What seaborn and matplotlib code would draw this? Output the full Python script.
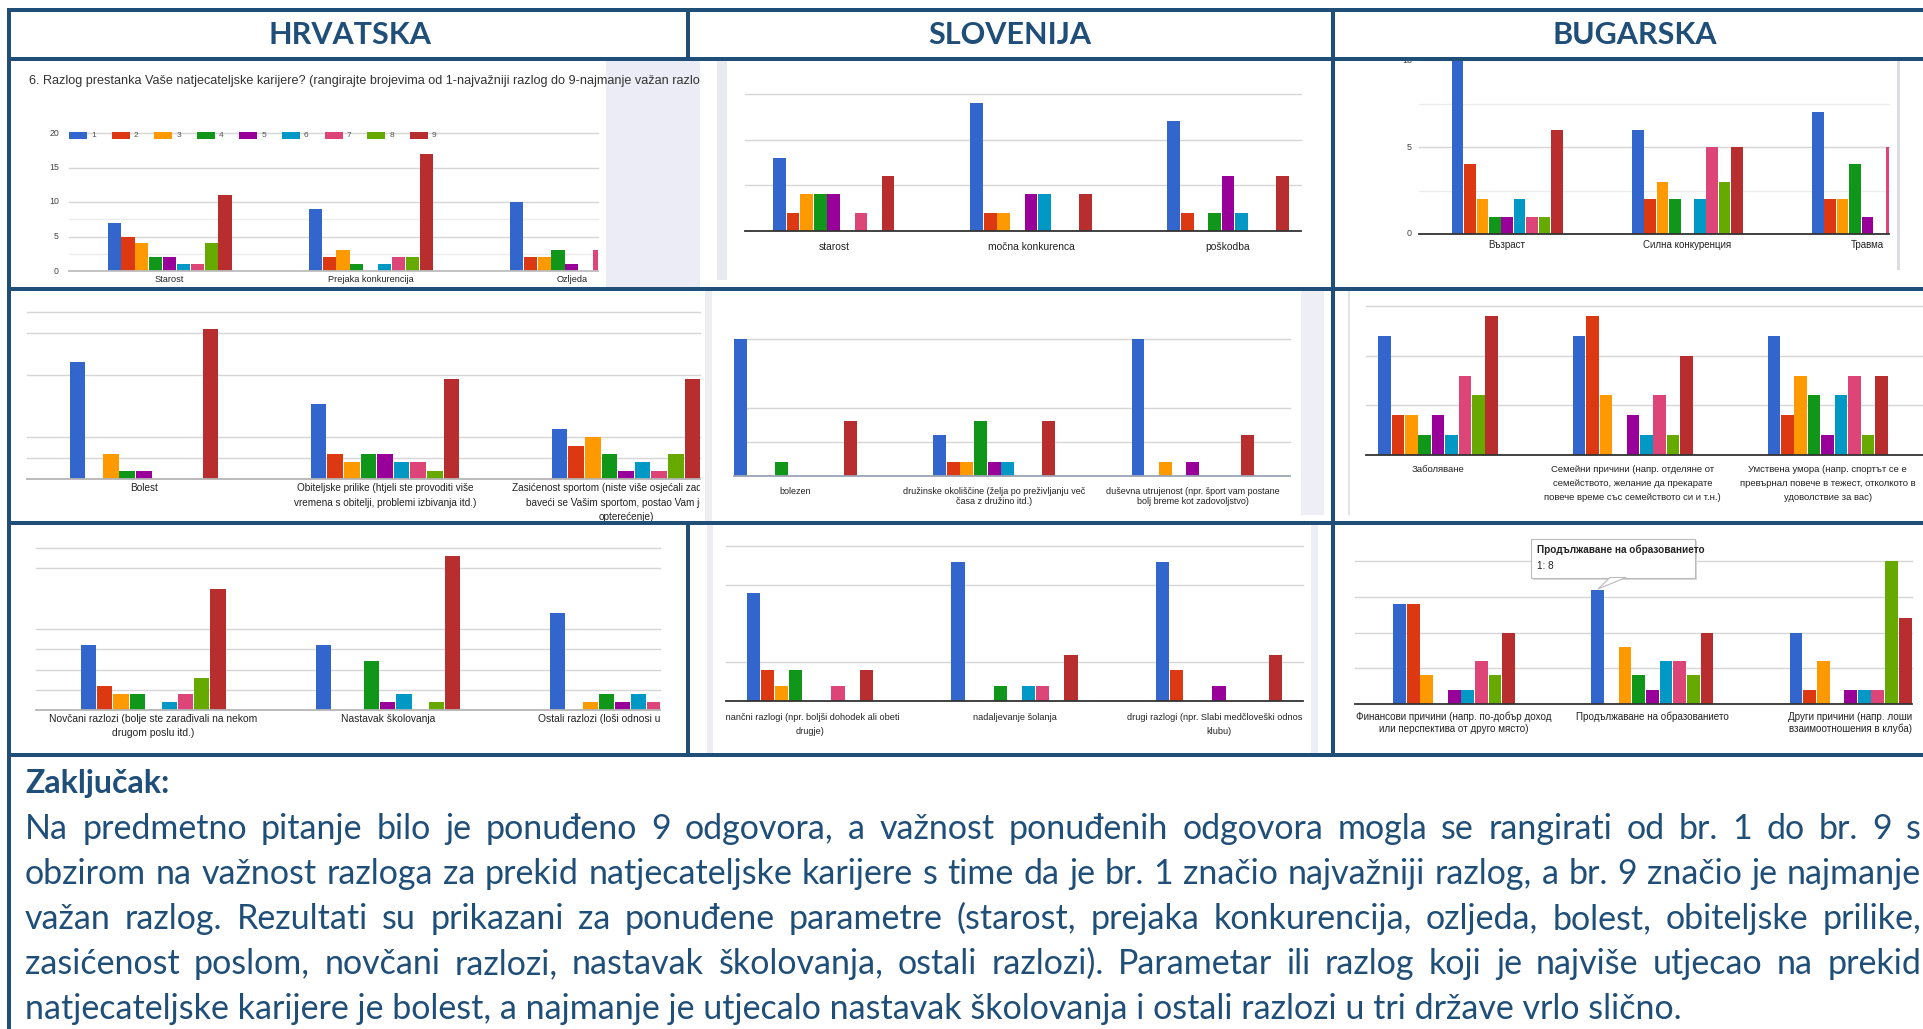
import pandas as pd
import matplotlib
matplotlib.use('Agg')
import matplotlib.pyplot as plt
import seaborn as sns
from matplotlib.patches import Rectangle, Polygon
from matplotlib.transforms import Bbox, TransformedBbox, blended_transform_factory

W, H = 1923, 1029
NAVY = '#1F4E79'
RANKS = ['1', '2', '3', '4', '5', '6', '7', '8', '9']
RANK_COLORS = ['#3366CC', '#DC3912', '#FF9900', '#109618', '#990099',
               '#0099C6', '#DD4477', '#66AA00', '#B82E2E']

# --- answers per rank (1..9) ---
hr1_cats = ['Starost', 'Prejaka konkurencija', 'Ozljeda']
hr1_vals = [[7, 5, 4, 2, 2, 1, 1, 4, 11],
            [9, 2, 3, 1, 0, 1, 2, 2, 17],
            [10, 2, 2, 3, 1, 0, 3, 2, 12]]

si1_cats = ['starost', 'močna konkurenca', 'poškodba']
si1_vals = [[4, 1, 2, 2, 2, 0, 1, 0, 3],
            [7, 1, 1, 0, 2, 2, 0, 0, 2],
            [6, 1, 0, 1, 3, 1, 0, 0, 3]]

bg1_cats = ['Възраст', 'Силна конкуренция', 'Травма']
bg1_vals = [[11, 4, 2, 1, 1, 2, 1, 1, 6],
            [6, 2, 3, 2, 0, 2, 5, 3, 5],
            [7, 2, 2, 4, 1, 0, 5, 1, 5]]

hr2_cats = ['Bolest',
            'Obiteljske prilike (htjeli ste provoditi više\nvremena s obitelji, problemi izbivanja itd.)',
            'Zasićenost sportom (niste više osjećali zadovoljstvo\nbaveći se Vašim sportom, postao Vam je više\nopterećenje)']
hr2_vals = [[14, 0, 3, 1, 1, 0, 0, 0, 18],
            [9, 3, 2, 3, 3, 2, 2, 1, 12],
            [6, 4, 5, 3, 1, 2, 1, 3, 12]]

si2_cats = ['bolezen',
            'družinske okoliščine (želja po preživljanju več\nčasa z družino itd.)',
            'duševna utrujenost (npr. šport vam postane\nbolj breme kot zadovoljstvo)']
si2_vals = [[10, 0, 0, 1, 0, 0, 0, 0, 4],
            [3, 1, 1, 4, 1, 1, 0, 0, 4],
            [10, 0, 1, 0, 1, 0, 0, 0, 3]]

bg2_cats = ['Заболяване',
            'Семейни причини (напр. отделяне от\nсемейството, желание да прекарате\nповече време със семейството си и т.н.)',
            'Умствена умора (напр. спортът се е\nпревърнал повече в тежест, отколкото в\nудоволствие за вас)']
bg2_vals = [[6, 2, 2, 1, 2, 1, 4, 3, 7],
            [6, 7, 3, 0, 2, 1, 3, 1, 5],
            [6, 2, 4, 3, 1, 3, 4, 1, 4]]

hr3_cats = ['Novčani razlozi (bolje ste zarađivali na nekom\ndrugom poslu itd.)',
            'Nastavak školovanja',
            'Ostali razlozi (loši odnosi u klubu itd.)']
hr3_vals = [[8, 3, 2, 2, 0, 1, 2, 4, 15],
            [8, 0, 0, 6, 1, 2, 0, 1, 19],
            [12, 0, 1, 2, 1, 2, 1, 1, 4]]

si3_cats = ['finančni razlogi (npr. boljši dohodek ali obeti\ndrugje)',
            'nadaljevanje šolanja',
            'drugi razlogi (npr. Slabi medčloveški odnosi v\nklubu)']
si3_vals = [[7, 2, 1, 2, 0, 0, 1, 0, 2],
            [9, 0, 0, 1, 0, 1, 1, 0, 3],
            [9, 2, 0, 0, 1, 0, 0, 0, 3]]

bg3_cats = ['Финансови причини (напр. по-добър доход\nили перспектива от друго място)',
            'Продължаване на образованието',
            'Други причини (напр. лоши\nвзаимоотношения в клуба)']
bg3_vals = [[7, 7, 2, 0, 1, 1, 3, 2, 5],
            [8, 0, 4, 2, 1, 3, 3, 2, 5],
            [5, 1, 3, 0, 1, 1, 1, 10, 6]]

headers = ['HRVATSKA', 'SLOVENIJA', 'BUGARSKA']
hr_title = ('6. Razlog prestanka Vaše natjecateljske karijere? (rangirajte brojevima '
            'od 1-najvažniji razlog do 9-najmanje važan razlog)')
tooltip_lines = ['Продължаване на образованието', '1: 8']
conclusion_head = 'Zaključak:'
conclusion_lines = [
    'Na predmetno pitanje bilo je ponuđeno 9 odgovora, a važnost ponuđenih odgovora mogla se rangirati od br. 1 do br. 9 s',
    'obzirom na važnost razloga za prekid natjecateljske karijere s time da je br. 1 značio najvažniji razlog, a br. 9 značio je najmanje',
    'važan razlog. Rezultati su prikazani za ponuđene parametre (starost, prejaka konkurencija, ozljeda, bolest, obiteljske prilike,',
    'zasićenost poslom, novčani razlozi, nastavak školovanja, ostali razlozi). Parametar ili razlog koji je najviše utjecao na prekid',
    'natjecateljske karijere je bolest, a najmanje je utjecalo nastavak školovanja i ostali razlozi u tri države vrlo slično.',
]

plt.rcParams['font.family'] = ['Liberation Sans', 'DejaVu Sans']
fig = plt.figure(figsize=(W / 100, H / 100), dpi=100)
fig.patch.set_facecolor('white')
renderer = fig.canvas.get_renderer()
DOC_FONT = ['Lato', 'DejaVu Sans']


def fy(y):
    return 1 - y / H


def px_rect(x0, y0, x1, y1):
    return [x0 / W, 1 - y1 / H, (x1 - x0) / W, (y1 - y0) / H]


def clip_box(x0, y0, x1, y1):
    return TransformedBbox(Bbox.from_extents(x0 / W, fy(y1), x1 / W, fy(y0)), fig.transFigure)


def fill_px(x0, y0, x1, y1, color, z):
    fig.add_artist(Rectangle((x0 / W, fy(y1)), (x1 - x0) / W, (y1 - y0) / H,
                             transform=fig.transFigure, facecolor=color,
                             edgecolor='none', zorder=z))


def text_width(s, **kw):
    t = fig.text(0, 0, s, **kw)
    w = t.get_window_extent(renderer).width
    t.remove()
    return w


def draw_panel(cats, vals, box, xlim, ymax, grid, cell, label_y, label_dy, label_pt,
               base='#333333', minor=()):
    x0, y_top, x1, y_base = box
    ax = fig.add_axes(px_rect(x0, y_top, x1, y_base))
    rows = [(c, r, v) for c, vs in zip(cats, vals) for r, v in zip(RANKS, vs)]
    df = pd.DataFrame(rows, columns=['cat', 'rank', 'value'])
    sns.barplot(data=df, x='cat', y='value', hue='rank', order=cats, hue_order=RANKS,
                palette=RANK_COLORS, width=0.62, gap=0.06, saturation=1,
                linewidth=0, errorbar=None, legend=False, ax=ax)
    ax.set_xlim(*xlim)
    ax.set_ylim(0, ymax)
    ax.set_facecolor('none')
    for s in ax.spines.values():
        s.set_visible(False)
    ax.set_xticks([])
    ax.set_yticks([])
    ax.set_xlabel('')
    ax.set_ylabel('')
    for g in minor:
        ax.axhline(g, color='#ececec', lw=1, zorder=0, clip_on=False)
    for g in grid:
        ax.axhline(g, color='#d6d6d6', lw=1, zorder=0, clip_on=False)
    ax.axhline(0, color=base, lw=1.3, zorder=3, clip_on=False)
    tr = blended_transform_factory(ax.transData, fig.transFigure)
    cb = clip_box(*cell)
    for i, lab in enumerate(cats):
        for k, line in enumerate(lab.split('\n')):
            t = fig.text(i, fy(label_y + k * label_dy), line, transform=tr,
                         ha='center', va='center', fontsize=label_pt, color='#222222')
            t.set_clip_on(True)
            t.set_clip_box(cb)
    return ax


def y_ticks(ax, values, x_right, pt):
    tr = blended_transform_factory(fig.transFigure, ax.transData)
    for v in values:
        fig.text(x_right / W, v, str(v), transform=tr, ha='right', va='center',
                 fontsize=pt, color='#444444')


# --- background pieces of the pasted screenshots ---
fill_px(606, 59, 700, 289, '#ECECF6', -5)     # lavender side of HR chart
fill_px(717, 59, 727, 280, '#E9E9F0', -5)
fill_px(1897, 59, 1900, 270, '#DCDCE4', -5)
fill_px(705, 291, 712, 521, '#EDEDF3', -5)
fill_px(1301, 291, 1324, 515, '#EEEEF6', -5)
fill_px(1348, 291, 1350, 515, '#E2E2E8', -5)
fill_px(707, 525, 713, 753, '#EDEDF3', -5)
fill_px(1311, 525, 1318, 753, '#EEEEF6', -5)

# --- row 1 ---
ax = draw_panel(hr1_cats, hr1_vals, (69, 133, 598, 271), (-0.5, 2.13), 20,
                [5, 10, 15, 20], (11, 61, 700, 287), 279, 12, 6.6,
                base='#bdbdbd', minor=[2.5, 7.5])
y_ticks(ax, [0, 5, 10, 15, 20], 59, 6.3)
for i, r in enumerate(RANKS):
    lx = 69 + i * 42.6
    fill_px(lx, 132, lx + 18, 139, RANK_COLORS[i], 4)
    fig.text((lx + 22) / W, fy(135.5), r, ha='left', va='center', fontsize=6, color='#555555')
t_size = 8.5 * 671 / text_width(hr_title.split(')')[0], fontsize=8.5)
t = fig.text(29 / W, fy(81), hr_title, ha='left', va='center', fontsize=t_size, color='#333333')
t.set_clip_on(True)
t.set_clip_box(clip_box(11, 61, 700, 287))

draw_panel(si1_cats, si1_vals, (745, 94, 1301, 231), (-0.45, 2.37), 7.5,
           [2.5, 5, 7.5], (690, 61, 1331, 287), 247, 12, 7.4)

ax = draw_panel(bg1_cats, bg1_vals, (1419, 59, 1889, 234), (-0.49, 2.12), 10.06,
                [5, 10], (1335, 61, 1923, 287), 245, 12, 7.0, minor=[2.5, 7.5])
y_ticks(ax, [0, 5, 10], 1412, 6.5)

# --- row 2 ---
draw_panel(hr2_cats, hr2_vals, (27, 312, 700, 479), (-0.485, 2.307), 20,
           [2.5, 5, 12.5, 17.5, 20], (11, 291, 700, 521), 488, 14.5, 7.2, base='#b5b5b5')

draw_panel(si2_cats, si2_vals, (734, 339, 1290, 476), (-0.31, 2.49), 10,
           [2.5, 5, 10], (700, 291, 1331, 521), 491, 11, 6.5, base='#9da3b4')

draw_panel(bg2_cats, bg2_vals, (1366, 306, 1923, 455), (-0.37, 2.49), 7.5,
           [2.5, 5, 7.5], (1335, 291, 1923, 521), 469, 14.5, 6.8)

# --- row 3 ---
draw_panel(hr3_cats, hr3_vals, (36, 548, 660, 710), (-0.5, 2.16), 20,
           [2.5, 5, 7.5, 10, 17.5, 20], (11, 525, 660, 753), 719, 14, 7.4, base='#b5b5b5')

draw_panel(si3_cats, si3_vals, (726, 546, 1303, 701), (-0.41, 2.41), 10,
           [2.5, 7.5, 10], (726, 525, 1303, 753), 718, 14, 6.6)

draw_panel(bg3_cats, bg3_vals, (1355, 561, 1912, 704), (-0.5, 2.31), 10,
           [2.5, 5, 7.5, 10], (1335, 525, 1923, 753), 717, 12, 7.1)

# tooltip on the BG chart
fill_px(1533, 541, 1697, 580, '#d9d9d9', 5)
fill_px(1531, 539, 1695, 578, '#ffffff', 6)
fig.add_artist(Rectangle((1531 / W, fy(578)), 164 / W, 39 / H, transform=fig.transFigure,
                         facecolor='none', edgecolor='#bbbbbb', lw=0.8, zorder=7))
fig.add_artist(Polygon([(1598 / W, fy(589)), (1610 / W, fy(577.5)), (1626 / W, fy(577.5))],
                       closed=True, transform=fig.transFigure, facecolor='white',
                       edgecolor='#bbbbbb', lw=0.8, zorder=7))
fig.text(1537 / W, fy(550), tooltip_lines[0], ha='left', va='center', fontsize=7.2,
         color='#222222', fontweight='bold', zorder=8)
fig.text(1537 / W, fy(566), tooltip_lines[1], ha='left', va='center', fontsize=7.2,
         color='#222222', zorder=8)

# --- table frame ---
for x0, y0, x1, y1 in [(7, 8, 1923, 12), (7, 57, 1923, 61), (7, 287, 1923, 291),
                       (7, 521, 1923, 525), (7, 753, 1923, 757), (7, 8, 11, 1029),
                       (686, 8, 690, 61), (686, 521, 690, 757), (1331, 8, 1335, 757)]:
    fill_px(x0, y0, x1, y1, NAVY, 20)

for name, cx in zip(headers, [350, 1010, 1635]):
    fig.text(cx / W, fy(35), name, ha='center', va='center', fontsize=22,
             fontweight='bold', color=NAVY, family=DOC_FONT)

# --- conclusion, justified like the document ---
fig.text(25 / W, fy(793), conclusion_head, ha='left', va='baseline', fontsize=23,
         fontweight='bold', color=NAVY, family=DOC_FONT)
body_pt = 23 * 1880 / text_width(conclusion_lines[1], fontsize=23, family=DOC_FONT)
body_kw = dict(fontsize=body_pt, color=NAVY, family=DOC_FONT)
x_left, x_right = 25, 1921
for k, line in enumerate(conclusion_lines):
    yb = 839 + k * 45
    if k == len(conclusion_lines) - 1:
        fig.text(x_left / W, fy(yb), line, ha='left', va='baseline', **body_kw)
        continue
    words = line.split(' ')
    widths = [text_width(w, **body_kw) for w in words]
    gap = (x_right - x_left - sum(widths)) / (len(words) - 1)
    x = x_left
    for w, ww in zip(words, widths):
        fig.text(x / W, fy(yb), w, ha='left', va='baseline', **body_kw)
        x += ww + gap

fig.savefig('out.png', dpi=100, facecolor='white')
